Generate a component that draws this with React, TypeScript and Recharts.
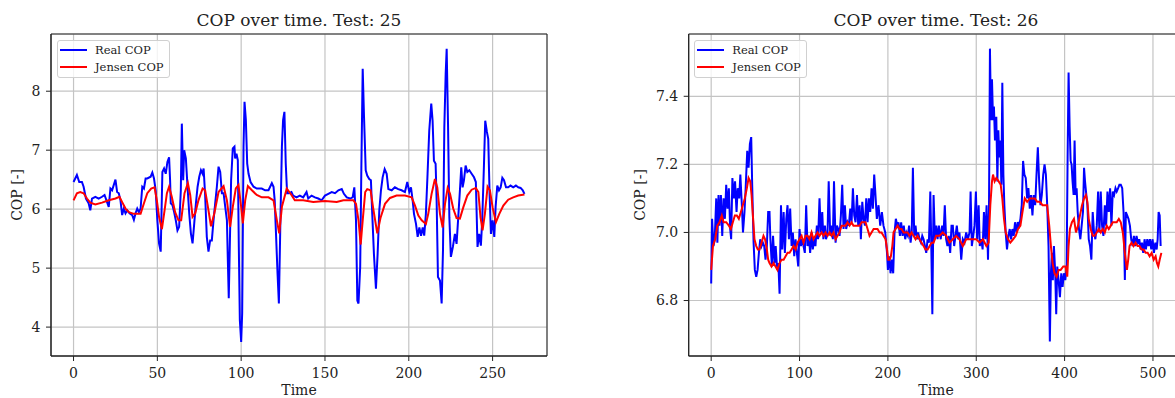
import React, { CSSProperties } from "react";
import {
    LineChart,
    Line,
    XAxis,
    YAxis,
    CartesianGrid,
    Legend,
    ReferenceArea,
} from "recharts";

// Test 25 (left panel)
const test25RealTime = [
    0, 2, 3.4, 5, 6, 7.4, 9, 10, 11, 13, 15, 17, 18.5, 20, 21, 22, 23, 25, 26, 27,
    28, 29, 30, 31, 32, 33.4, 35, 36, 37, 38, 39, 40, 41, 42, 43, 44, 46, 47, 48, 49,
    50, 51, 52, 53, 54, 55, 56, 57, 57.6, 58, 59, 60, 61, 62, 63, 64, 64.6, 65.4, 66, 67,
    68, 69, 70, 71, 72, 73, 74, 75, 76, 77, 77.6, 78.5, 79.5, 80.5, 81.5, 82.5, 83.5, 84.5, 85.5, 86.5,
    87.5, 88.5, 89.5, 90.5, 91.5, 92, 92.6, 93.2, 94, 95, 96, 96.4, 97.2, 98, 98.6, 99.2, 100, 100.6, 101.4, 102,
    102.8, 103.6, 104.4, 105.6, 107.4, 109.3, 112.3, 114.3, 116.3, 118.3, 119.3, 120, 120.7, 121.7, 122.5, 123.3, 124.3, 125, 125.8, 126.6,
    127.4, 128.6, 130, 131, 133, 135, 137, 139, 140, 142, 144, 146, 148, 150, 152, 154, 156, 158, 160, 161.3,
    163, 165, 166.5, 167.5, 168.5, 169.3, 170, 171, 171.7, 172.5, 173.3, 174.3, 175.2, 176.4, 177.4, 178.2, 179.2, 180.4, 181.4, 182.4,
    183.4, 184.4, 185.6, 186.8, 187.8, 189.8, 191.7, 193.7, 195.7, 197.7, 199.1, 200.3, 201.3, 202.3, 203.1, 204.3, 205.3, 206.3, 207.3, 208.3,
    209.2, 210.2, 211.2, 212.2, 213.4, 214.2, 215, 216, 216.6, 217.4, 218.6, 219.6, 220.4, 221.2, 222, 222.6, 223.4, 224.2, 225.1, 226.3,
    227.5, 228.5, 229.5, 230.5, 231.3, 232.1, 232.9, 233.9, 234.9, 236.1, 237.5, 238.9, 240, 241, 242, 243, 243.8, 244.8, 245.6, 246.6,
    247.4, 248.2, 249, 250, 251, 251.8, 252.8, 253.8, 254.8, 255.8, 256.8, 258, 259.3, 260.7, 262.3, 263.9, 265.3, 266.7, 268, 269,
];
const test25RealCop = [
    6.46, 6.58, 6.46, 6.46, 6.38, 6.18, 6.1, 5.98, 6.18, 6.21, 6.18, 6.21, 6.24, 6.12, 6.04, 6.35, 6.32, 6.5, 6.29, 6.27,
    6.15, 5.9, 6.01, 5.93, 5.98, 5.93, 5.9, 5.82, 5.93, 6.01, 5.95, 6.01, 6.38, 6.35, 6.52, 6.52, 6.55, 6.62, 6.52, 6.32,
    5.81, 5.42, 5.28, 6.63, 6.69, 6.6, 6.8, 6.88, 6.49, 6.1, 6.07, 5.95, 5.81, 5.64, 5.7, 6.32, 7.45, 6.49, 7.0, 6.86,
    6.38, 5.93, 5.59, 5.42, 5.76, 6.1, 6.38, 6.55, 6.66, 6.6, 6.69, 6.24, 5.53, 5.28, 5.47, 5.47, 5.81, 6.1, 6.38, 6.72,
    6.63, 6.27, 6.27, 6.04, 5.81, 5.19, 4.49, 5.35, 6.49, 7.03, 7.06, 6.86, 6.94, 6.83, 5.36, 4.12, 3.75, 4.23, 7.06, 7.82,
    7.51, 6.77, 6.6, 6.46, 6.38, 6.35, 6.35, 6.32, 6.32, 6.44, 6.38, 6.15, 5.64, 4.91, 4.4, 5.64, 7.06, 7.51, 7.65, 6.77,
    6.27, 6.27, 6.29, 6.23, 6.2, 6.23, 6.2, 6.29, 6.18, 6.23, 6.2, 6.18, 6.15, 6.23, 6.26, 6.29, 6.27, 6.32, 6.34, 6.26,
    6.2, 6.18, 6.2, 6.37, 5.81, 4.45, 4.4, 5.02, 6.71, 8.38, 7.56, 6.66, 6.57, 6.51, 6.49, 5.92, 5.24, 4.65, 5.24, 5.98,
    6.32, 6.54, 6.68, 6.6, 6.34, 6.32, 6.37, 6.34, 6.32, 6.29, 6.46, 6.29, 6.37, 6.15, 5.92, 5.75, 5.53, 5.69, 5.55, 5.69,
    5.55, 5.92, 6.6, 7.33, 7.79, 7.5, 6.82, 6.77, 6.15, 4.85, 4.79, 4.4, 5.3, 7.39, 8.29, 8.72, 7.45, 5.86, 5.19, 5.36,
    5.58, 5.41, 5.86, 6.32, 6.71, 6.37, 6.49, 6.74, 6.63, 6.66, 6.6, 6.54, 6.46, 5.36, 5.58, 5.38, 5.81, 6.71, 7.5, 7.31,
    7.19, 6.26, 5.58, 5.81, 5.53, 6.04, 6.4, 6.32, 6.37, 6.53, 6.49, 6.37, 6.37, 6.4, 6.37, 6.4, 6.37, 6.36, 6.32, 6.26,
];
const test25JensenTime = [
    0, 2, 4, 6, 8, 10, 13, 17, 21, 25, 27.4, 29, 31, 33, 36, 40, 42, 44, 46.3, 48.3,
    49.7, 51, 52.7, 54.3, 55.7, 57, 58.6, 60.6, 62.6, 64.2, 66.2, 68.2, 69.6, 71, 72.6, 74.5, 77, 78.5, 80.5, 82,
    84, 86.5, 89.5, 91.5, 93.4, 95, 96.8, 98.4, 100, 101, 102.4, 104, 106.4, 109.3, 112.3, 116.3, 119.3, 121.3, 122.7, 124.3,
    127.2, 130, 132, 137, 143, 150, 157, 161, 167, 168.5, 170, 171.3, 172.5, 174, 175.2, 177.2, 178.8, 181.2, 183.2, 185.8,
    188.8, 192.7, 197.7, 201.7, 203.7, 205.7, 207.7, 210.2, 211.6, 213.6, 215.6, 217, 218.6, 220.2, 221.6, 223.2, 224.6, 226.5, 228.5, 230.5,
    232.5, 234.9, 237.5, 240, 241.5, 242.8, 244, 245.4, 247, 248.4, 250, 252, 254, 256.4, 259.3, 262.3, 265.3, 269,
];
const test25JensenCop = [
    6.15, 6.27, 6.29, 6.27, 6.18, 6.11, 6.08, 6.11, 6.15, 6.18, 6.21, 6.12, 6.01, 5.95, 5.92, 5.92, 6.1, 6.27, 6.35, 6.37,
    6.15, 5.87, 5.66, 5.98, 6.27, 6.38, 6.21, 5.95, 5.81, 5.81, 6.27, 6.44, 6.24, 5.87, 5.93, 6.15, 6.35, 6.32, 5.98, 5.71,
    5.93, 6.29, 6.39, 6.15, 5.7, 6.04, 6.35, 6.41, 6.04, 5.76, 6.15, 6.39, 6.32, 6.24, 6.2, 6.2, 6.15, 5.81, 5.59, 6.04,
    6.35, 6.24, 6.15, 6.15, 6.12, 6.14, 6.12, 6.15, 6.15, 6.09, 5.81, 5.4, 5.81, 6.29, 6.34, 6.32, 6.01, 5.59, 5.86, 6.09,
    6.19, 6.23, 6.23, 6.2, 6.06, 5.89, 5.81, 5.75, 5.92, 6.26, 6.51, 6.37, 5.92, 5.69, 6.09, 6.36, 6.26, 6.01, 5.85, 5.84,
    6.03, 6.23, 6.33, 6.36, 6.29, 5.86, 5.64, 5.92, 6.38, 6.32, 6.03, 5.78, 5.92, 6.06, 6.16, 6.2, 6.23, 6.25,
];

// Test 26 (right panel)
const test26RealTime = [
    0, 1, 2.6, 4, 5.7, 7, 8.3, 9.4, 11, 12.5, 14, 15.5, 17, 18.5, 20, 21.5, 22.6, 24, 25.7, 27,
    28.7, 30, 31.7, 33, 34.7, 36, 37.7, 39, 40.8, 42.3, 43.8, 45.3, 46.4, 48, 49.4, 51, 52.5, 54, 55.5, 57,
    58.5, 60, 61.5, 63, 64.5, 66, 67, 68.7, 70, 71.7, 73, 74.7, 76, 77.4, 79, 80.4, 82, 83.4, 85, 86.4,
    88, 89.4, 91, 92.4, 94, 95.5, 97, 98.5, 100, 101.5, 103, 104.5, 106, 107.5, 109, 110.6, 112, 113.6, 115, 116.6,
    118, 119.6, 121, 122.6, 124, 125.7, 127, 128.7, 130, 131.7, 133, 134.7, 136, 137.7, 139, 140.8, 142.3, 143.8, 145.3, 146.8,
    148.3, 149.8, 151.3, 152.8, 154.3, 155.8, 157.4, 158.9, 160.4, 161.9, 163.4, 165, 166.4, 168, 169.4, 171, 172.5, 174, 175.5, 177,
    178.5, 180, 181.5, 183, 184.5, 185.7, 187.5, 189.4, 191.3, 193.2, 195, 197, 199, 200, 201.5, 203, 204.5, 206, 207.5, 209,
    210.6, 212, 213.6, 215, 216.6, 218, 219.6, 221, 222.6, 224, 225.7, 227, 228.3, 229.8, 231.3, 232.8, 234.3, 235.8, 237.4, 238.9,
    240.4, 241.9, 243.4, 244.9, 246.4, 248, 249, 250.3, 251.7, 253.2, 254.7, 256.2, 257.7, 259.8, 261.4, 262.9, 264.4, 265.9, 267.4, 268.9,
    270.5, 272, 273.5, 275, 276.5, 278, 279.5, 281, 283, 284.8, 286.7, 288.6, 290.5, 292.4, 293.6, 295, 296.6, 298, 299.6, 301,
    302.7, 304, 305.7, 307.2, 308.7, 310.2, 311.7, 313.3, 314.4, 315.5, 316.7, 317.8, 319, 320, 321.2, 322.7, 323.9, 325, 326.1, 327.3,
    328.4, 329.5, 330.7, 331.8, 333.3, 334.8, 336.4, 337.9, 339.4, 340.9, 342.4, 343.9, 345.5, 347, 348.5, 350, 351.5, 353, 354.5, 356,
    357.6, 359, 360.6, 362, 363.6, 365, 366.7, 368.2, 369.7, 371.2, 372.7, 374.2, 375.8, 377.3, 378.8, 380.3, 381.8, 383.3, 384.5, 385.6,
    386.7, 387.9, 389.4, 390.5, 391.7, 393.2, 394.7, 396.2, 397.7, 399.2, 400.8, 402.3, 403.4, 404.5, 405.7, 406.8, 407.9, 409, 410.2, 411.3,
    412.5, 413.6, 414.8, 416.3, 417.8, 419.3, 420.8, 422, 423.1, 424.2, 425.8, 427.3, 428.8, 430.3, 431.8, 433.3, 434.8, 436.4, 437.9, 439.4,
    440.9, 442.4, 443.9, 445.5, 447, 448.5, 450, 451.5, 453, 454.5, 456, 457.6, 459, 460.6, 462, 463.6, 465.2, 466.7, 468.2, 469.3,
    470.8, 472.3, 473.9, 475.4, 476.9, 478.4, 479.9, 481.4, 483, 484.5, 486, 487.5, 489, 490.5, 492, 493.6, 495.1, 496.6, 498.1, 499.6,
    501.1, 502.7, 504.2, 505.3, 506.4, 507.6, 508.7,
];
const test26RealCop = [
    6.85, 7.04, 6.96, 6.98, 7.1, 6.97, 7.11, 7.02, 7.11, 6.99, 7.1, 7.04, 7.14, 7.07, 7.13, 7.01, 6.98, 7.16, 7.1, 7.15,
    7.06, 7.13, 7.1, 7.17, 7.08, 7.0, 7.06, 7.13, 7.24, 7.19, 7.26, 7.28, 7.14, 6.97, 6.89, 6.87, 6.89, 6.94, 6.98, 6.96,
    6.97, 6.96, 6.92, 6.96, 7.06, 7.06, 6.98, 6.9, 6.99, 6.91, 6.96, 6.89, 6.91, 6.82, 7.08, 6.95, 7.06, 6.94, 7.04, 7.08,
    6.98, 7.07, 6.96, 7.0, 6.93, 6.98, 6.94, 6.9, 7.01, 6.96, 6.98, 6.96, 6.94, 7.08, 6.96, 6.99, 6.94, 7.0, 6.95, 6.98,
    6.96, 7.02, 6.98, 7.1, 7.0, 7.06, 6.98, 7.02, 6.98, 7.0, 7.15, 6.99, 7.02, 6.98, 7.15, 6.97, 7.02, 7.01, 6.99, 7.05,
    7.14, 7.01, 7.08, 7.01, 7.03, 7.02, 7.07, 7.03, 7.13, 7.05, 7.03, 7.11, 7.02, 7.08, 6.98, 7.09, 7.04, 7.02, 7.1, 7.03,
    7.1, 7.06, 7.13, 7.07, 7.17, 7.12, 7.04, 7.08, 7.02, 7.06, 7.02, 7.0, 6.94, 6.89, 6.93, 6.88, 6.92, 6.88, 7.0, 7.04,
    7.02, 7.03, 6.99, 7.03, 6.99, 7.02, 6.98, 7.0, 6.99, 7.02, 6.97, 7.0, 7.19, 6.99, 7.02, 6.98, 7.0, 6.98, 6.97, 6.99,
    6.98, 6.96, 6.94, 6.98, 6.97, 7.12, 6.98, 6.76, 7.11, 6.98, 7.02, 6.98, 7.02, 6.98, 7.02, 6.99, 7.08, 6.98, 6.96, 6.99,
    6.94, 7.02, 7.02, 6.96, 6.99, 7.02, 6.98, 7.0, 6.92, 6.98, 6.97, 7.0, 6.98, 7.0, 7.12, 6.96, 6.99, 7.02, 7.12, 6.98,
    7.08, 6.96, 6.98, 6.95, 7.06, 6.98, 7.08, 6.92, 7.06, 7.54, 7.33, 7.45, 7.33, 7.37, 7.27, 7.34, 7.15, 7.3, 7.22, 7.27,
    7.14, 7.44, 7.17, 7.08, 7.0, 6.95, 6.99, 7.01, 6.98, 7.01, 6.99, 7.03, 7.0, 7.03, 7.02, 7.04, 7.08, 7.21, 7.17, 7.16,
    7.1, 7.13, 7.07, 7.11, 7.05, 7.11, 7.08, 7.17, 7.25, 7.15, 7.08, 7.11, 7.17, 7.2, 7.17, 7.08, 6.96, 6.68, 6.88, 6.94,
    6.86, 6.96, 6.88, 6.76, 6.9, 6.86, 6.81, 6.88, 6.84, 6.88, 6.86, 6.9, 7.22, 7.47, 7.31, 7.21, 7.2, 7.15, 7.11, 7.27,
    7.11, 7.13, 7.06, 7.01, 6.98, 7.02, 7.06, 7.19, 7.15, 7.12, 7.08, 6.98, 6.96, 6.92, 7.06, 7.0, 6.98, 7.02, 7.12, 7.0,
    7.12, 7.02, 6.99, 7.08, 7.02, 7.12, 7.06, 7.13, 7.02, 7.12, 7.11, 7.13, 7.12, 7.13, 7.14, 7.14, 7.13, 7.06, 6.86, 7.06,
    7.05, 7.04, 7.02, 6.98, 6.96, 6.99, 6.96, 6.99, 6.97, 6.98, 6.95, 6.97, 6.94, 6.98, 6.95, 6.98, 6.96, 6.98, 6.95, 6.98,
    6.94, 6.97, 6.95, 6.98, 7.06, 7.05, 6.96,
];
const test26JensenTime = [
    0, 2, 4.5, 7, 9.4, 12, 14, 17, 20, 22.3, 24.5, 26.8, 29, 31.3, 33.6, 35.8, 38, 40.4, 42.3, 44.2,
    45.7, 47.2, 49, 51, 52.8, 54.7, 57, 59.2, 61, 63, 64.5, 66, 68.3, 70.6, 72.8, 75, 77.4, 79.6, 82, 84.2,
    86.4, 88.7, 91, 93.2, 95.5, 97.7, 100, 102.3, 104.5, 106.8, 109, 111.3, 113.6, 115.8, 118, 120.4, 122.6, 125, 127.2, 129.4,
    131.7, 134, 136.2, 138.5, 140.8, 143, 145.3, 147.5, 149.8, 152, 154.3, 156.6, 158.9, 161, 163.4, 165.7, 168, 170.2, 172.5, 174.7,
    177, 179.2, 181.5, 183.8, 186, 188.3, 190.6, 192.8, 195, 197.4, 199, 200.4, 202, 203.4, 205, 206.4, 208.7, 211, 213.2, 215.5,
    217.7, 220, 222.3, 224.5, 226.8, 229, 231.3, 233.6, 235.8, 238, 240.4, 242.6, 245, 247.2, 249.4, 251.7, 254.5, 258.3, 262, 266,
    269.7, 273.5, 277.3, 281, 284.8, 288.6, 292.4, 296.2, 300, 303.8, 307.6, 311.4, 314, 315.9, 317.8, 319, 320.8, 322.7, 325.4, 327.7,
    329.5, 331.4, 333.3, 336, 338.6, 341.7, 344.7, 347.3, 350, 352.3, 354.9, 357.6, 360.6, 363.6, 366.3, 368.9, 372, 375, 377.7, 380.3,
    382.6, 384.5, 386.4, 388.6, 390.9, 393.2, 395.5, 398.5, 401.1, 403, 404.5, 406, 408.3, 410.6, 412.9, 415.2, 417.4, 419.7, 422, 424.2,
    425.8, 427.3, 429.5, 431.8, 434, 436.4, 438.6, 440.9, 443.2, 445.5, 447.7, 450, 452.3, 454.5, 456.8, 459, 461.4, 463.6, 465.9, 468.2,
    470.5, 472, 473.5, 475.8, 478, 480.3, 482.6, 484.8, 487.1, 489.4, 491.7, 494, 496.2, 498.5, 500.8, 503, 504.5, 506, 507.6, 509.5,
];
const test26JensenCop = [
    6.89, 6.96, 6.98, 7.02, 7.03, 7.05, 7.03, 7.03, 7.02, 7.01, 7.03, 7.05, 7.05, 7.04, 7.06, 7.08, 7.1, 7.13, 7.16, 7.15,
    7.11, 7.05, 6.98, 6.96, 6.95, 6.95, 6.97, 6.99, 6.98, 6.95, 6.92, 6.91, 6.9, 6.91, 6.9, 6.89, 6.91, 6.92, 6.92, 6.93,
    6.94, 6.94, 6.95, 6.96, 6.95, 6.97, 6.98, 6.99, 6.97, 6.99, 6.99, 6.98, 7.0, 6.98, 6.99, 7.0, 6.99, 7.0, 6.99, 7.0,
    6.99, 7.0, 6.99, 7.0, 6.98, 6.99, 7.0, 7.02, 7.02, 7.02, 7.03, 7.02, 7.03, 7.02, 7.02, 7.02, 7.02, 7.03, 7.03, 7.03,
    7.01, 6.99, 7.0, 7.01, 7.01, 7.01, 7.0, 7.0, 6.99, 6.98, 6.95, 6.92, 6.92, 6.93, 6.96, 7.0, 7.01, 7.02, 7.01, 7.01,
    7.0, 7.0, 7.0, 6.99, 7.0, 6.99, 6.98, 6.99, 6.98, 6.97, 6.96, 6.95, 6.95, 6.96, 6.97, 6.97, 6.99, 6.99, 7.0, 6.99,
    6.97, 6.98, 6.99, 6.98, 6.96, 6.98, 6.98, 6.98, 6.98, 6.97, 6.98, 6.96, 6.97, 7.08, 7.15, 7.17, 7.15, 7.16, 7.15, 7.14,
    7.1, 7.04, 7.0, 6.98, 6.97, 6.98, 6.99, 7.01, 7.02, 7.06, 7.1, 7.09, 7.1, 7.1, 7.1, 7.09, 7.09, 7.08, 7.08, 7.08,
    7.02, 6.96, 6.91, 6.88, 6.87, 6.89, 6.89, 6.9, 6.9, 6.87, 6.96, 7.01, 7.03, 7.04, 7.0, 7.02, 7.05, 7.08, 7.1, 7.11,
    7.09, 7.04, 7.01, 6.99, 6.99, 7.0, 7.01, 7.0, 7.01, 7.0, 7.02, 7.01, 7.02, 7.03, 7.03, 7.03, 7.04, 7.03, 7.0, 6.94,
    6.89, 6.92, 6.96, 6.97, 6.96, 6.97, 6.96, 6.96, 6.95, 6.95, 6.94, 6.94, 6.93, 6.94, 6.92, 6.93, 6.91, 6.9, 6.92, 6.94,
];

const seriesNames = ["Real COP", "Jensen COP"];

const FONT = "'DejaVu Serif', serif";

const toPoints = (time: number[], cop: number[]) =>
    time.map((t, i) => ({ t, cop: cop[i] }));

function LegendBox(props: any) {
    const items = [...(props.payload || [])].sort(
        (a: any, b: any) =>
            seriesNames.indexOf(a.value) - seriesNames.indexOf(b.value)
    );
    return (
        <div style={legendBoxStyle}>
            {items.map((entry: any) => (
                <div key={entry.value} style={legendRowStyle}>
                    <span
                        style={{
                            display: "inline-block",
                            width: 27,
                            borderTop: `2px solid ${entry.color}`,
                            marginRight: 8,
                        }}
                    />
                    <span>{entry.value}</span>
                </div>
            ))}
        </div>
    );
}

function CopPanel({
    left,
    width,
    yAxisWidth,
    rightMargin,
    realTime,
    realCop,
    jensenTime,
    jensenCop,
    xDomain,
    yDomain,
    xTicks,
    yTicks,
    yFormat,
    legendLeft,
}: any) {
    const tickStyle = { fontSize: 14, fill: "#222", fontFamily: FONT };
    return (
        <div style={{ position: "absolute", left, top: 0 }}>
            <LineChart
                width={width}
                height={398}
                margin={{ top: 34, right: rightMargin, bottom: 0, left: 0 }}
            >
                <CartesianGrid stroke="#c4c4c4" strokeWidth={1.2} />
                <XAxis
                    dataKey="t"
                    type="number"
                    domain={xDomain}
                    ticks={xTicks}
                    allowDataOverflow
                    height={42}
                    tick={tickStyle}
                    tickSize={5}
                    tickMargin={7}
                    stroke="#222"
                />
                <YAxis
                    type="number"
                    domain={yDomain}
                    ticks={yTicks}
                    allowDataOverflow
                    width={yAxisWidth}
                    tick={tickStyle}
                    tickSize={5}
                    tickMargin={5.5}
                    tickFormatter={yFormat}
                    stroke="#222"
                />
                <Line
                    data={toPoints(realTime, realCop)}
                    dataKey="cop"
                    name={seriesNames[0]}
                    type="linear"
                    stroke="#0000ff"
                    strokeWidth={2}
                    dot={false}
                    isAnimationActive={false}
                />
                <Line
                    data={toPoints(jensenTime, jensenCop)}
                    dataKey="cop"
                    name={seriesNames[1]}
                    type="linear"
                    stroke="#ff0000"
                    strokeWidth={2}
                    dot={false}
                    isAnimationActive={false}
                />
                <ReferenceArea
                    x1={xDomain[0]}
                    x2={xDomain[1]}
                    y1={yDomain[0]}
                    y2={yDomain[1]}
                    fill="none"
                    fillOpacity={0}
                    stroke="#222"
                    strokeWidth={1}
                    ifOverflow="visible"
                />
                <Legend
                    layout="horizontal"
                    verticalAlign="middle"
                    align="center"
                    content={<LegendBox />}
                    wrapperStyle={{ left: legendLeft, top: 40, width: "auto" }}
                />
            </LineChart>
        </div>
    );
}

export default function App() {
    return (
        <div style={pageStyle}>
            <CopPanel
                left={0}
                width={590}
                yAxisWidth={51}
                rightMargin={43}
                realTime={test25RealTime}
                realCop={test25RealCop}
                jensenTime={test25JensenTime}
                jensenCop={test25JensenCop}
                xDomain={[-13.45, 282.45]}
                yDomain={[3.51, 8.97]}
                xTicks={[0, 50, 100, 150, 200, 250]}
                yTicks={[4, 5, 6, 7, 8]}
                yFormat={(v: number) => String(v)}
                legendLeft={57}
            />
            <CopPanel
                left={630}
                width={600}
                yAxisWidth={58.7}
                rightMargin={46.6}
                realTime={test26RealTime}
                realCop={test26RealCop}
                jensenTime={test26JensenTime}
                jensenCop={test26JensenCop}
                xDomain={[-25.45, 534.45]}
                yDomain={[6.637, 7.583]}
                xTicks={[0, 100, 200, 300, 400, 500]}
                yTicks={[6.8, 7.0, 7.2, 7.4]}
                yFormat={(v: number) => v.toFixed(1)}
                legendLeft={64.3}
            />
            <svg width={1175} height={398} style={overlayStyle}>
                <g fontFamily={FONT} fill="#222">
                    <text x={299} y={26} fontSize={17} textAnchor="middle">
                        COP over time. Test: 25
                    </text>
                    <text x={936} y={26} fontSize={17} textAnchor="middle">
                        COP over time. Test: 26
                    </text>
                    <text x={299} y={395} fontSize={14} textAnchor="middle">
                        Time
                    </text>
                    <text x={936} y={395} fontSize={14} textAnchor="middle">
                        Time
                    </text>
                    <text
                        transform="translate(21.7,195) rotate(-90)"
                        fontSize={14}
                        textAnchor="middle"
                    >
                        COP [-]
                    </text>
                    <text
                        transform="translate(645,195) rotate(-90)"
                        fontSize={14}
                        textAnchor="middle"
                    >
                        COP [-]
                    </text>
                </g>
            </svg>
        </div>
    );
}

const pageStyle: CSSProperties = {
    position: "fixed",
    left: 0,
    top: 0,
    width: 1175,
    height: 398,
    overflow: "hidden",
    background: "white",
    fontFamily: FONT,
};

const overlayStyle: CSSProperties = {
    position: "absolute",
    left: 0,
    top: 0,
    pointerEvents: "none",
};

const legendBoxStyle: CSSProperties = {
    boxSizing: "border-box",
    width: 113,
    height: 38,
    paddingLeft: 2,
    border: "1px solid #d0d0d0",
    borderRadius: 3,
    background: "rgba(255,255,255,0.8)",
    fontFamily: FONT,
    fontSize: 11.5,
    color: "#222",
};

const legendRowStyle: CSSProperties = {
    display: "flex",
    alignItems: "center",
    height: 17.5,
    whiteSpace: "nowrap",
};
